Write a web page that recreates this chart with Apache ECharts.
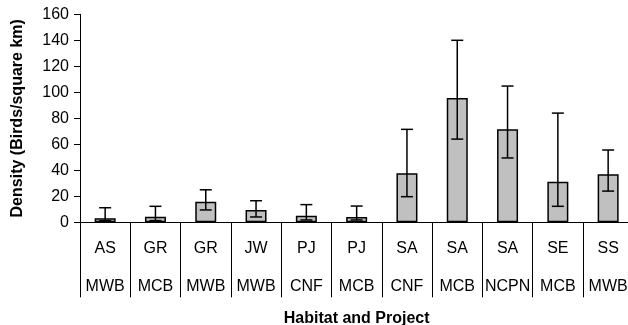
<!DOCTYPE html>
<html>
<head>
<meta charset="utf-8">
<script src="https://cdn.jsdelivr.net/npm/echarts@6/dist/echarts.min.js"></script>
<style>
html,body{margin:0;padding:0;background:#fff;}
#chart{width:628px;height:325px;}
</style>
</head>
<body>
<div id="chart"></div>
<script>
var habitats = ['AS','GR','GR','JW','PJ','PJ','SA','SA','SA','SE','SS'];
var projects = ['MWB','MCB','MWB','MWB','CNF','MCB','CNF','MCB','NCPN','MCB','MWB'];
var density  = [3.1, 4.3, 15.9, 9.5, 5.0, 4.1, 37.7, 95.6, 71.5, 31.2, 36.9];
var errLow   = [1.2, 1.3, 9.5, 4.1, 1.8, 1.8, 19.7, 64.0, 49.5, 12.3, 24.0];
var errHigh  = [11.2, 12.3, 25.0, 16.6, 13.6, 12.5, 71.5, 140.0, 104.8, 84.0, 55.6];
var yTicks = {min: 0, max: 160, interval: 20};

var FONT = 'Liberation Sans, Arial, sans-serif';
var categories = habitats.map(function(h, i){ return h + '\n' + projects[i]; });
var errData = errLow.map(function(lo, i){ return [i, lo, errHigh[i]]; });

var chart = echarts.init(document.getElementById('chart'), null, {renderer: 'canvas'});
chart.setOption({
  animation: false,
  backgroundColor: '#fff',
  grid: {left: 80, top: 14.3, width: 553.3, height: 208, containLabel: false, outerBoundsMode: 'none'},
  xAxis: {
    type: 'category',
    data: categories,
    name: 'Habitat and Project',
    nameLocation: 'middle',
    nameGap: 85,
    nameTextStyle: {fontFamily: FONT, fontSize: 16, fontWeight: 'bold', color: '#000'},
    axisLine: {lineStyle: {color: '#000', width: 1}},
    axisTick: {show: true, length: 75, alignWithLabel: false, lineStyle: {color: '#000', width: 1}},
    axisLabel: {fontFamily: FONT, fontSize: 16, color: '#000', margin: 7, lineHeight: 38, interval: 0, hideOverlap: false},
    splitLine: {show: false}
  },
  yAxis: {
    type: 'value',
    min: yTicks.min, max: yTicks.max, interval: yTicks.interval,
    name: 'Density (Birds/square km)',
    nameLocation: 'middle',
    nameGap: 54,
    nameTextStyle: {fontFamily: FONT, fontSize: 16, fontWeight: 'bold', color: '#000'},
    axisLine: {show: true, lineStyle: {color: '#000', width: 1}},
    axisTick: {show: true, length: 6, lineStyle: {color: '#000', width: 1}},
    axisLabel: {fontFamily: FONT, fontSize: 16, color: '#000', margin: 11},
    splitLine: {show: false}
  },
  series: [
    {
      type: 'bar',
      data: density,
      barWidth: 21,
      itemStyle: {color: '#C0C0C0', borderColor: '#000', borderWidth: 1.5},
      z: 2
    },
    {
      type: 'custom',
      data: errData,
      z: 3,
      renderItem: function(params, api){
        var x = api.value(0);
        var lo = api.coord([x, api.value(1)]);
        var hi = api.coord([x, api.value(2)]);
        var hw = 6;
        var st = {stroke: '#000', lineWidth: 1.5};
        return {
          type: 'group',
          children: [
            {type: 'line', shape: {x1: lo[0], y1: lo[1], x2: hi[0], y2: hi[1]}, style: st},
            {type: 'line', shape: {x1: hi[0]-hw, y1: hi[1], x2: hi[0]+hw, y2: hi[1]}, style: st},
            {type: 'line', shape: {x1: lo[0]-hw, y1: lo[1], x2: lo[0]+hw, y2: lo[1]}, style: st}
          ]
        };
      }
    }
  ]
});
</script>
</body>
</html>
